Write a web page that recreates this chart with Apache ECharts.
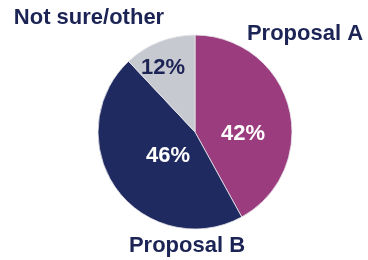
<!DOCTYPE html>
<html><head><meta charset="utf-8">
<script src="https://cdn.jsdelivr.net/npm/echarts@6/dist/echarts.min.js"></script>
<style>html,body{margin:0;padding:0;background:#fff}#c{width:368px;height:260px}</style>
</head><body><div id="c"></div>
<script>
const categories = ['Proposal A', 'Proposal B', 'Not sure/other'];
const values = [42, 46, 12];
const sliceColors = ['#9a3c7e', '#1f2a60', '#c7c9d0'];
const innerLabelColors = ['#ffffff', '#ffffff', '#1c2455'];

// label anchor positions (layout only)
const innerPos = [[243, 134], [168, 156], [163, 68]];
const outerPos = [[305, 34], [187, 246], [89, 18]];

const chart = echarts.init(document.getElementById('c'), null, {renderer: 'canvas'});
const data = categories.map((n, i) => ({
  name: n, value: values[i],
  itemStyle: {color: sliceColors[i]},
  label: {color: innerLabelColors[i]}
}));
const font = {fontFamily: 'Liberation Sans, Arial, sans-serif', fontWeight: 'bold', fontSize: 22, overflow: 'none'};
chart.setOption({
  animation: false,
  series: [{
    type: 'pie',
    center: [195, 132],
    radius: [0, 97],
    startAngle: 90,
    clockwise: true,
    data: data,
    itemStyle: {borderColor: '#e8e8ec', borderWidth: 0.8},
    label: Object.assign({show: true, position: 'inside', formatter: '{c}%'}, font),
    labelLine: {show: false},
    labelLayout: p => ({x: innerPos[p.dataIndex][0], y: innerPos[p.dataIndex][1], align: 'center', verticalAlign: 'middle'})
  }, {
    type: 'pie',
    center: [195, 132],
    radius: [0, 97],
    startAngle: 90,
    silent: true,
    data: categories.map((n, i) => ({name: n, value: values[i]})),
    itemStyle: {color: 'rgba(0,0,0,0)'},
    label: Object.assign({show: true, position: 'outside', formatter: '{b}', color: '#1c2455', width: 200}, font),
    labelLine: {show: false},
    labelLayout: p => ({x: outerPos[p.dataIndex][0], y: outerPos[p.dataIndex][1], align: 'center', verticalAlign: 'middle'})
  }]
});
</script></body></html>
